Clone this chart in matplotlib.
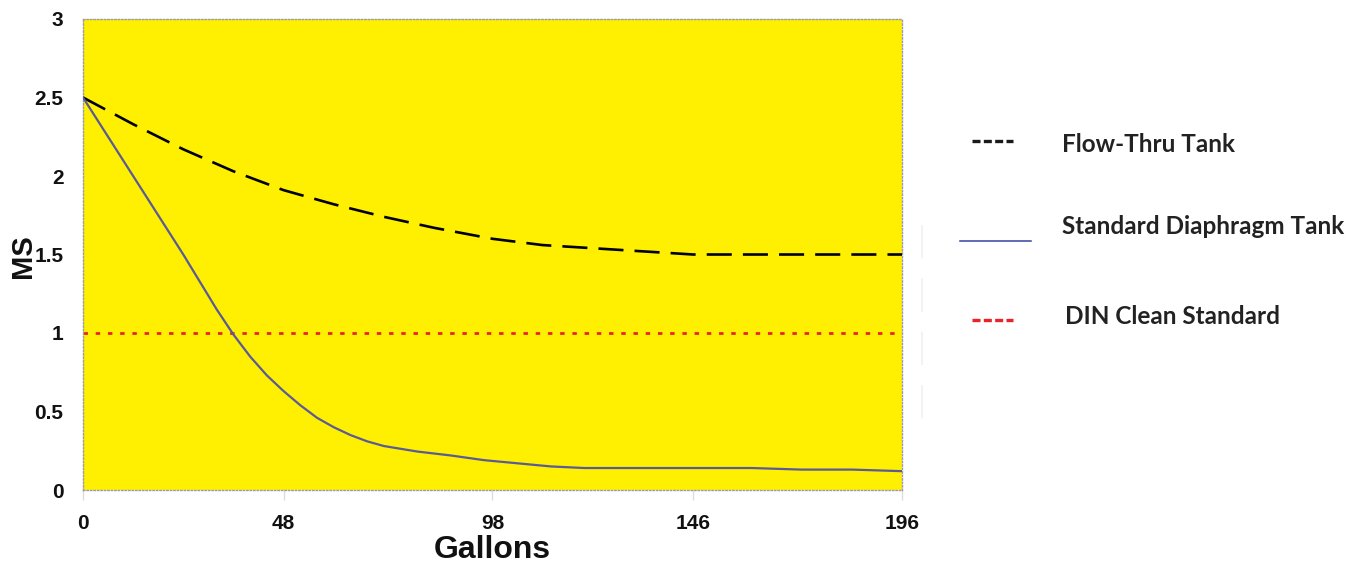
import matplotlib
matplotlib.use("Agg")
import matplotlib.pyplot as plt
from matplotlib.lines import Line2D

# ---- data ----
flow_x = [0, 12, 24, 36, 48, 60, 72, 84, 98, 110, 122, 134, 146, 160, 172, 184, 196]
flow_y = [2.5, 2.33, 2.17, 2.03, 1.91, 1.82, 1.74, 1.67, 1.60, 1.56, 1.54, 1.52, 1.50, 1.50, 1.50, 1.50, 1.50]

diaph_x = [0, 12, 24, 32, 36, 40, 44, 48, 52, 56, 60, 64, 68, 72, 80, 88, 96, 104, 112, 120, 132, 146, 160, 172,
           184, 196]
diaph_y = [2.5, 2.0, 1.5, 1.15, 0.99, 0.85, 0.73, 0.63, 0.54, 0.46, 0.40, 0.35, 0.31, 0.28, 0.245, 0.22, 0.19,
           0.17, 0.15, 0.14, 0.14, 0.14, 0.14, 0.13, 0.13, 0.12]

din_x = [0, 196]
din_y = [1.0, 1.0]

x_ticks = [0, 48, 98, 146, 196]
y_ticks = [0, 0.5, 1, 1.5, 2, 2.5, 3]
y_tick_labels = ["0", "0.5", "1", "1.5", "2", "2.5", "3"]

legend_labels = ["Flow-Thru Tank", "Standard Diaphragm Tank", "DIN Clean Standard"]

# ---- figure ----
W, H = 1366, 563
fig = plt.figure(figsize=(W / 100, H / 100), dpi=100)
fig.patch.set_facecolor("white")

def fx(px):
    return px / W

def fy(py):
    return 1 - py / H

ax = fig.add_axes([fx(83), fy(490), fx(902) - fx(83), fy(19) - fy(490)])
ax.set_facecolor("#fef000")

ax.plot(flow_x, flow_y, color="black", lw=1.9, dashes=(9.5, 4.2), zorder=3)
ax.plot(diaph_x, diaph_y, color="#5a5a96", lw=1.6, zorder=3)
ax.plot(din_x, din_y, color="#e8232a", lw=2.0, dashes=(1.6, 2.8), zorder=2)

ax.set_xlim(0, 196)
ax.set_ylim(0, 3)
ax.set_xticks(x_ticks)
ax.set_xticklabels([str(v) for v in x_ticks])
ax.set_yticks(y_ticks)
ax.set_yticklabels(y_tick_labels)

for sp in ax.spines.values():
    sp.set_linestyle((0, (1, 1.5)))
    sp.set_color("#9a9aaa")
    sp.set_linewidth(1.0)

ax.tick_params(axis="x", direction="out", length=7, width=1, color="#dcdcdc", pad=10)
ax.tick_params(axis="y", length=0, pad=14)
for lab in ax.get_xticklabels() + ax.get_yticklabels():
    lab.set_fontfamily("Liberation Sans")
    lab.set_fontweight("bold")
    lab.set_fontsize(15)
    lab.set_color("#111111")

ax.set_xlabel("Gallons", fontfamily="Liberation Sans", fontweight="bold", fontsize=23, labelpad=2, color="#111111")
fig.text(fx(23), fy(256), "MS", rotation=90, ha="center", va="center",
         fontfamily="Liberation Sans", fontweight="bold", fontsize=21, color="#111111")

# ---- custom legend on the right ----
fig.add_artist(Line2D([fx(972), fx(1013)], [fy(141), fy(141)], color="#1a1a1a", lw=2.4,
                      dashes=(2.4, 1.0), transform=fig.transFigure))
fig.add_artist(Line2D([fx(960), fx(1031)], [fy(241), fy(241)], color="#3343a0", lw=1.1,
                      transform=fig.transFigure))
fig.add_artist(Line2D([fx(972), fx(1013)], [fy(320), fy(320)], color="#e8232a", lw=2.4,
                      dashes=(2.4, 1.0), transform=fig.transFigure))
# faint vertical dashed artifact
fig.add_artist(Line2D([fx(922), fx(922)], [fy(225), fy(425)], color="#f0f0f0", lw=1.2,
                      dashes=(20, 12), transform=fig.transFigure))

leg_font = dict(family="Lato", weight="bold", size=17.5, color="#222222", va="center", ha="left")
fig.text(fx(1062), fy(145), legend_labels[0], **leg_font)
fig.text(fx(1062), fy(226), legend_labels[1], **leg_font)
fig.text(fx(1065), fy(316), legend_labels[2], **leg_font)

fig.savefig("out.png", dpi=100, facecolor="white")
